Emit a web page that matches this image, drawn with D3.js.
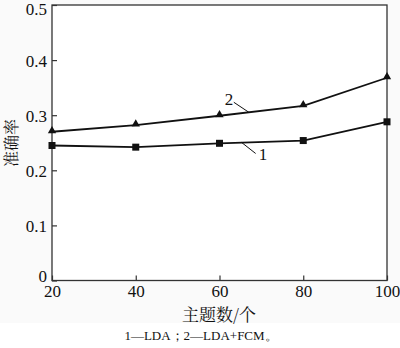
<!DOCTYPE html>
<html><head><meta charset="utf-8">
<script src="https://cdn.jsdelivr.net/npm/d3@7"></script>
<style>body{margin:0;background:#fff}svg{display:block}
.serif{font-family:"Liberation Serif","Times New Roman",serif}
.cjk{font-family:"Noto Serif CJK SC","Noto Sans CJK SC",serif}
</style>
</head><body>
<svg id="c" width="400" height="348"></svg>
<script>
const topics = [20, 40, 60, 80, 100];
const ldaValues = [0.245, 0.242, 0.249, 0.254, 0.288];
const ldaFcmValues = [0.270, 0.282, 0.299, 0.317, 0.368];
const yTicks = [0, 0.1, 0.2, 0.3, 0.4, 0.5];
const yTickLabels = ["0", "0.1", "0.2", "0.3", "0.4", "0.5"];
const seriesLabels = ["1", "2"];
const yTitle = "准确率";
const xTitle = "主题数/个";
const caption = "1—LDA；2—LDA+FCM。";

const svg = d3.select("#c");
const L = 52, R = 387, T = 5, B = 280.5;

svg.append("rect").attr("x",0).attr("y",0).attr("width",400).attr("height",323).attr("fill","#fafafa");

const x = d3.scaleLinear().domain([20,100]).range([L,R]);
const y = d3.scaleLinear().domain([0,0.5]).range([B,T]);

// frame
svg.append("rect").attr("x",L).attr("y",T).attr("width",R-L).attr("height",B-T)
  .attr("fill","#fff").attr("stroke","#333").attr("stroke-width",1.3);

// y axis (ticks inward)
const yAxis = d3.axisLeft(y).tickValues(yTicks).tickSize(-5).tickPadding(5)
  .tickFormat((d,i)=>yTickLabels[i]);
const gy = svg.append("g").attr("transform",`translate(${L},0)`).call(yAxis)
  .attr("font-family",null).attr("font-size",null);
gy.select(".domain").remove();
gy.selectAll(".tick line").attr("stroke","#333").attr("stroke-width",1.2);
gy.selectAll(".tick text").attr("class","serif").style("font-size","17px").attr("fill","#111")
  .attr("dy",(d)=> d===0 ? "0.05em" : (d===0.5 ? "0.55em" : "0.35em"));

// x axis (ticks inward)
const xAxis = d3.axisBottom(x).tickValues(topics).tickSize(-5).tickPadding(4).tickFormat(d=>d);
const gx = svg.append("g").attr("transform",`translate(0,${B})`).call(xAxis)
  .attr("font-family",null).attr("font-size",null);
gx.select(".domain").remove();
gx.selectAll(".tick line").attr("stroke","#333").attr("stroke-width",1.2);
gx.selectAll(".tick text").attr("class","serif").style("font-size","17px").attr("fill","#111").attr("dy","0.75em");

const line = d3.line().x((d,i)=>x(topics[i])).y(d=>y(d));
[ldaValues, ldaFcmValues].forEach(vals=>{
  svg.append("path").datum(vals).attr("d",line).attr("fill","none").attr("stroke","#111").attr("stroke-width",1.8);
});
// square markers
svg.selectAll(".sq").data(ldaValues).enter().append("rect")
  .attr("x",(d,i)=>x(topics[i])-3.5).attr("y",d=>y(d)-3.5).attr("width",7).attr("height",7).attr("fill","#111");
// triangle markers
const tri = d3.symbol().type(d3.symbolTriangle).size(30);
svg.selectAll(".tr").data(ldaFcmValues).enter().append("path")
  .attr("d",tri).attr("transform",(d,i)=>`translate(${x(topics[i])},${y(d)-1})`).attr("fill","#111");

// series labels with leader lines
function label(txt, seriesVals, idx, frac, dx1, dy1, dx2, dy2, tx, ty){
  const px = x(topics[idx]) + (x(topics[idx+1])-x(topics[idx]))*frac;
  const py = y(seriesVals[idx] + (seriesVals[idx+1]-seriesVals[idx])*frac);
  svg.append("line").attr("x1",px+dx1).attr("y1",py+dy1).attr("x2",px+dx2).attr("y2",py+dy2)
    .attr("stroke","#111").attr("stroke-width",1);
  svg.append("text").attr("x",px+tx).attr("y",py+ty).text(txt)
    .attr("class","serif").style("font-size","17px").attr("fill","#111");
}
label(seriesLabels[1], ldaFcmValues, 2, 0.35, -15, -10, 0, 0, -24, -7);
label(seriesLabels[0], ldaValues, 2, 0.3, -3, 0, 11, 11, 14, 18);

// titles
svg.append("text").attr("transform",`translate(17,143) rotate(-90)`).attr("text-anchor","middle")
  .attr("class","cjk").style("font-size","16px").attr("fill","#111").text(yTitle);
svg.append("text").attr("x",219).attr("y",321).attr("text-anchor","middle")
  .attr("class","cjk").style("font-size","17px").attr("fill","#111").text(xTitle);
svg.append("text").attr("x",201).attr("y",340).attr("text-anchor","middle")
  .attr("class","serif").style("font-size","13px").attr("fill","#111").text(caption);
</script>
</body></html>
